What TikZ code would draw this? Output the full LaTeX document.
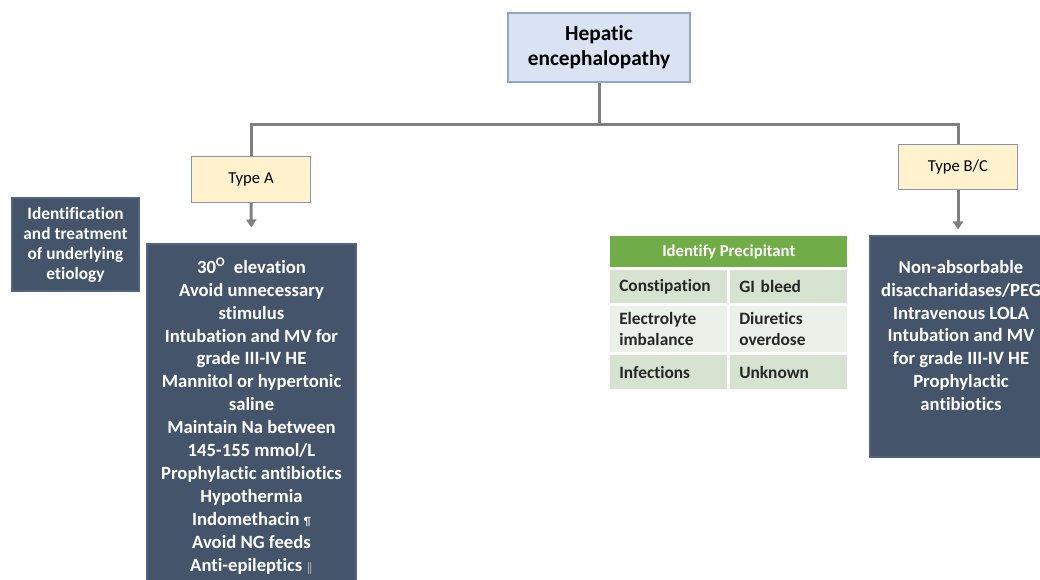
\documentclass[tikz,border=0pt]{standalone}
\usepackage{fontspec}
\setmainfont{Carlito}[Ligatures=NoCommon]
\usetikzlibrary{arrows.meta}
\definecolor{slate}{HTML}{44546A}
\definecolor{slateline}{HTML}{52647F}
\definecolor{headfill}{HTML}{DAE3F3}
\definecolor{headline}{HTML}{8EA9C8}
\definecolor{typefill}{HTML}{FFF2CC}
\definecolor{typeline}{HTML}{8497B0}
\definecolor{linkgray}{HTML}{7F7F7F}
\definecolor{tabgreen}{HTML}{70AD47}
\definecolor{rowdark}{HTML}{D6E3D0}
\definecolor{rowlight}{HTML}{EBF1E9}
\tikzset{
  headbox/.style={fill=headfill, draw=headline, line width=0.9pt, minimum width=136.5pt, minimum height=51.75pt,
    align=center, font=\bfseries\fontsize{16}{19}\selectfont},
  typebox/.style={fill=typefill, draw=typeline, line width=0.9pt, minimum width=89.25pt, minimum height=34pt,
    font=\fontsize{12.5}{14}\selectfont},
  darkbox/.style={fill=slate, draw=slateline, line width=0.8pt, inner sep=0pt},
  darktext/.style={text=white, align=center, inner sep=0pt, font=\bfseries\fontsize{14}{17.2}\selectfont},
  link/.style={draw=linkgray, line width=2.25pt},
  arrow/.style={link, -{Triangle[width=7.5pt,length=6pt]}},
  cell/.style={anchor=north west, inner xsep=6.75pt, inner ysep=0pt, text width=74.25pt, minimum width=87.75pt,
    align=left, text=black!85, font=\bfseries\fontsize{13}{15.75}\selectfont},
}
\begin{document}
\begin{tikzpicture}[x=0.75pt,y=-0.75pt]
  \useasboundingbox (0,0) rectangle (1040,579);
  \clip (0,0) rectangle (1040,579);
  % top of the tree
  \node [headbox] (he) at (599,47.5) {Hepatic\\encephalopathy};
  \node [typebox] (typea) at (251,179.5) {Type A};
  \node [typebox] (typeb) at (958,167) {Type B/C};
  \coordinate (bar) at (599,124);
  \draw [link] (he.south) -- (bar);
  \draw [link] (typea.north) |- (bar) -| (typeb.north);
  % type A
  \node [darkbox, minimum width=95.25pt, minimum height=69.75pt] (etio) at (75.5,244.5) {};
  \node [darktext, font=\bfseries\fontsize{13}{15}\selectfont] (etiotext) at (75.5,245)
    {Identification\\and treatment\\of underlying\\etiology};
  \node [darkbox, darktext, minimum width=156.75pt, minimum height=258pt] (boxa) at (251.5,416)
    {30\textsuperscript{O}\ \ elevation\\Avoid unnecessary\\stimulus\\Intubation and MV for\\grade III-IV HE\\
     Mannitol or hypertonic\\saline\\Maintain Na between\\145-155 mmol/L\\Prophylactic antibiotics\\
     Hypothermia\\Indomethacin {\mdseries\small ¶}\\Avoid NG feeds\\Anti-epileptics {\mdseries\small$\|$}};
  \draw [arrow, shorten >=12pt] (typea.south) -- (boxa.north);
  % type B/C
  \node [darkbox, minimum width=136.5pt, minimum height=165.75pt] (boxb) at (961,346.5) {};
  \node [darktext] (boxbtext) at (961,335.5)
    {Non-absorbable\\disaccharidases/PEG\\Intravenous LOLA\\Intubation and MV\\for grade III-IV HE\\Prophylactic\\antibiotics};
  \draw [arrow, shorten >=4.5pt] (typeb.south) -- (typeb.south |- boxb.north);
  % precipitant table
  \node [fill=tabgreen, anchor=north west, minimum width=177.75pt, minimum height=23.25pt, inner sep=0pt,
    text=white, font=\bfseries\fontsize{12.5}{15}\selectfont] (prec) at (610,236) {Identify Precipitant};
  \node [cell, fill=rowdark, minimum height=24.75pt] (c11) at (610,270) {Constipation};
  \node [cell, fill=rowdark, minimum height=24.75pt] (c12) at (730,270) {GI bleed};
  \node [cell, fill=rowlight, minimum height=34.5pt] (c21) at (610,306) {Electrolyte\\imbalance};
  \node [cell, fill=rowlight, minimum height=34.5pt] (c22) at (730,306) {Diuretics\\overdose};
  \node [cell, fill=rowdark, minimum height=25.5pt] (c31) at (610,355) {Infections};
  \node [cell, fill=rowdark, minimum height=25.5pt] (c32) at (730,355) {Unknown};
\end{tikzpicture}
\end{document}
